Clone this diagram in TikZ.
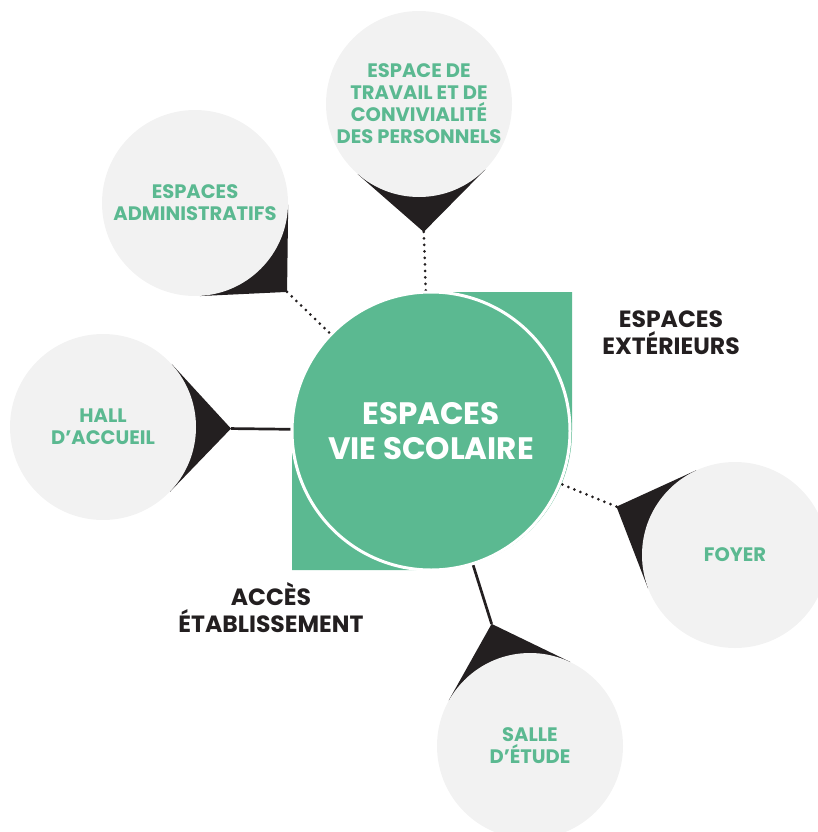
\documentclass[tikz,border=0pt]{standalone}
\usepackage{fontspec}
\setmainfont{Poppins}
\usetikzlibrary{calc,backgrounds}
\definecolor{vsgreen}{HTML}{5BB991}
\definecolor{pingrey}{HTML}{F2F2F2}
\definecolor{inkblack}{HTML}{231F20}
\tikzstyle{espace} = [circle, fill=pingrey, minimum size=186pt, inner sep=0pt,
    text=vsgreen, align=center, font=\bfseries\fontsize{19.5}{22}\selectfont]
\tikzstyle{hub} = [circle, fill=vsgreen, draw=white, line width=3pt, minimum size=278pt,
    inner sep=0pt, text=white, align=center, font=\bfseries\fontsize{31}{35}\selectfont]
\tikzstyle{zone} = [text=inkblack, align=center, font=\bfseries\fontsize{23.5}{27}\selectfont]
\tikzstyle{pin} = [fill=inkblack]
\tikzstyle{link} = [draw=inkblack, line width=2.7pt]
\tikzstyle{dotlink} = [link, line width=3pt, line cap=round, dash pattern=on 0pt off 6.5pt]

\begin{document}
\begin{tikzpicture}[x=1pt, y=-1pt]
  \useasboundingbox (0,0) rectangle (817,832);

  \node [hub] (vie) at (431,431) {ESPACES\\VIE SCOLAIRE};

  \node [espace] (travail) at (419,104) {ESPACE DE\\TRAVAIL ET DE\\CONVIVIALITÉ\\DES PERSONNELS};
  \node [espace] (admin) at (195,203) {ESPACES\\ADMINISTRATIFS};
  \node [espace] (hall) at (103,427) {HALL\\D’ACCUEIL};
  \node [espace] (foyer) at (735,555) {FOYER};
  \node [espace] (etude) at (530,746) {SALLE\\D’ÉTUDE};

  \node [zone] (exterieurs) at (671,333) {ESPACES\\EXTÉRIEURS};
  \node [zone] (acces) at (271,608) {ACCÈS\\ÉTABLISSEMENT};

  \begin{scope}[on background layer]
    \fill [vsgreen] (292,431) arc [start angle=180, end angle=270, radius=139]
      -- (572,292) -- (572,431) arc [start angle=0, end angle=90, radius=139]
      -- (292,570) -- cycle;
    \foreach \room/\kind in {travail/dotlink, admin/dotlink, hall/link, foyer/dotlink, etude/link} {
      \coordinate (\room-tip) at ($(\room)!128pt!(vie)$);
      \fill [pin] (\room-tip) -- (tangent cs:node=\room, point={(\room-tip)}, solution=1)
        -- (tangent cs:node=\room, point={(\room-tip)}, solution=2) -- cycle;
      \draw [\kind] (\room-tip) -- (vie);
    }
  \end{scope}
\end{tikzpicture}
\end{document}
